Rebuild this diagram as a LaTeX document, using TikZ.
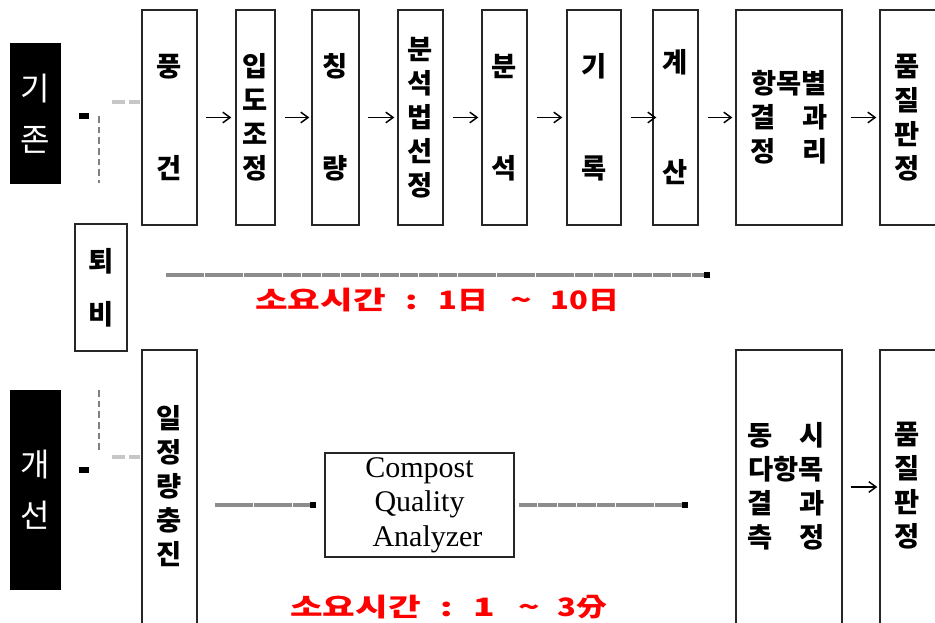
\documentclass[tikz,border=0pt]{standalone}
\usepackage{fontspec}
\usepackage{graphicx}
\usetikzlibrary{arrows.meta,calc}
\newfontfamily\kr{Noto Sans CJK KR}
\setmainfont{Liberation Serif}
\newcommand\rs[1]{\scalebox{1.4}[1]{#1}}
\newcommand\rsb[1]{\scalebox{1.22}[1]{#1}}
\begin{document}
\begin{tikzpicture}[x=0.75pt,y=-0.75pt,
 box/.style={draw=black!85, line width=1pt, fill=white, inner sep=0pt, align=center, font=\kr\bfseries\fontsize{20.5}{25.5}\selectfont},
 ktext/.style={inner sep=0pt, align=center, font=\kr\bfseries\fontsize{20.5}{25.5}\selectfont},
 tagbox/.style={fill=black, text=white, inner sep=0pt, align=center, font=\kr\fontsize{24}{38}\selectfont},
 arr/.style={-{Straight Barb[length=5.5pt,width=8pt]}, line width=1.1pt},
 timeline/.style={draw=black!45, line width=3pt, dash pattern=on 14pt off 0.6pt, -{Square[length=4.5pt,width=5pt,color=black]}},
 conn/.style={draw=black!50, line width=1.5pt, dash pattern=on 5pt off 3pt},
 connlight/.style={draw=black!22, line width=3.5pt, dash pattern=on 10pt off 3pt},
 timetext/.style={text=red, font=\kr\bfseries\fontsize{19}{20}\selectfont, inner sep=0pt}
]
\clip (0,0) rectangle (935,623);
\fill[white] (0,0) rectangle (935,623);

% tags
\node[tagbox, minimum width=38.25pt, minimum height=105.75pt] (tag1) at (35.5,113.5) {기\\존};
\node[tagbox, minimum width=38.25pt, minimum height=150pt] (tag2) at (35.5,490) {개\\선};

% top row
\node[box, minimum width=41.25pt, minimum height=161.25pt] (n1) at (169.5,117.5) {풍\\[51pt]건};
\node[box, minimum width=29.25pt, minimum height=161.25pt] (n2) at (255.5,117.5) {입\\도\\조\\정};
\node[box, minimum width=35.25pt, minimum height=161.25pt] (n3) at (335.5,117.5) {칭\\[51pt]량};
\node[box, minimum width=33.75pt, minimum height=161.25pt] (n4) at (420.5,117.5) {분\\석\\법\\선\\정};
\node[box, minimum width=33.75pt, minimum height=161.25pt] (n5) at (504.5,117.5) {분\\[51pt]석};
\node[box, minimum width=40.5pt, minimum height=161.25pt] (n6) at (594,117.5) {기\\[51pt]록};
\node[box, minimum width=33.75pt, minimum height=161.25pt] (n7) at (675.5,117.5) {계\\[57pt]산};
\node[box, minimum width=79.5pt, minimum height=161.25pt] (n8) at (789,117.5) {항목별\\결　과\\정　리};
\node[box, minimum width=45pt, minimum height=161.25pt] (n9) at (910,117.5) {};
\node[ktext] (n9t) at (907,118) {품\\질\\판\\정};

\node[box, minimum width=39pt, minimum height=95.25pt] (p) at (101,287.5) {퇴\\[14pt]비};

% bottom row
\node[box, minimum width=41.25pt, minimum height=217.5pt] (m1) at (169.5,495) {};
\node[ktext] (m1t) at (169.5,486) {일\\정\\량\\충\\진};
\node[box, minimum width=141.75pt, minimum height=78pt, font=\fontsize{22.5}{26}\selectfont] (m2) at (419.5,505) {Compost\\Quality\\\hspace*{12pt}Analyzer};
\node[box, minimum width=79.5pt, minimum height=217.5pt] (m3) at (789,495) {};
\node[ktext] (m3t) at (786,486) {동　시\\다항목\\결　과\\측　정};
\node[box, minimum width=45pt, minimum height=217.5pt] (m4) at (910,495) {};
\node[ktext] (m4t) at (907,486) {품\\질\\판\\정};

% arrows top
\draw[arr] ([xshift=6pt]n1.east) -- ([xshift=-3pt]n2.west);
\draw[arr] ([xshift=6.75pt]n2.east) -- ([xshift=-1.5pt]n3.west);
\draw[arr] ([xshift=6pt]n3.east) -- ([xshift=-2.25pt]n4.west);
\draw[arr] ([xshift=6.75pt]n4.east) -- ([xshift=-2.25pt]n5.west);
\draw[arr] ([xshift=6.75pt]n5.east) -- ([xshift=-3pt]n6.west);
\draw[arr] ([xshift=6.75pt]n6.east) -- ([xshift=3pt]n7.west);
\draw[arr] ([xshift=6.75pt]n7.east) -- ([xshift=-2.25pt]n8.west);
\draw[arr] ([xshift=6pt]n8.east) -- ([xshift=-2.25pt]n9.west);
\draw[arr] ($(m3.east)+(8,-8)$) -- ($(m4.west)+(-2,-8)$);

% time lines
\coordinate (t1s) at (166,275);
\coordinate (t1e) at (710,275);
\draw[timeline] (t1s) -- (t1e);
\coordinate (t2s) at (215,505);
\coordinate (t2e) at (688,505);
\draw[timeline] (t2s) -- ([xshift=-6pt]m2.west);
\draw[timeline] ([xshift=3pt]m2.east) -- (t2e);

% left connectors
\coordinate (c1) at (84,116);
\fill[black] (79,113) rectangle (89,119);
\draw[conn] (99,116) -- (99,183);
\draw[connlight] (112,102) -- (140,102);
\coordinate (c2) at (84,470);
\fill[black] (79,467) rectangle (89,473);
\draw[conn] (99,390) -- (99,450);
\draw[connlight] (112,457) -- (140,457);

% time texts
\node[timetext, anchor=west] (tt1) at (255,300) {\rs{소요시간}\hspace{15pt}\rs{:}\hspace{15pt}\rsb{1日}\hspace{17pt}\rs{\textasciitilde}\hspace{14pt}\rsb{10日}};
\node[timetext, anchor=west] (tt2) at (290,607) {\rs{소요시간}\hspace{15pt}\rs{:}\hspace{15pt}\rs{1}\hspace{18pt}\rs{\textasciitilde}\hspace{13pt}\rsb{3分}};
\end{tikzpicture}
\end{document}
